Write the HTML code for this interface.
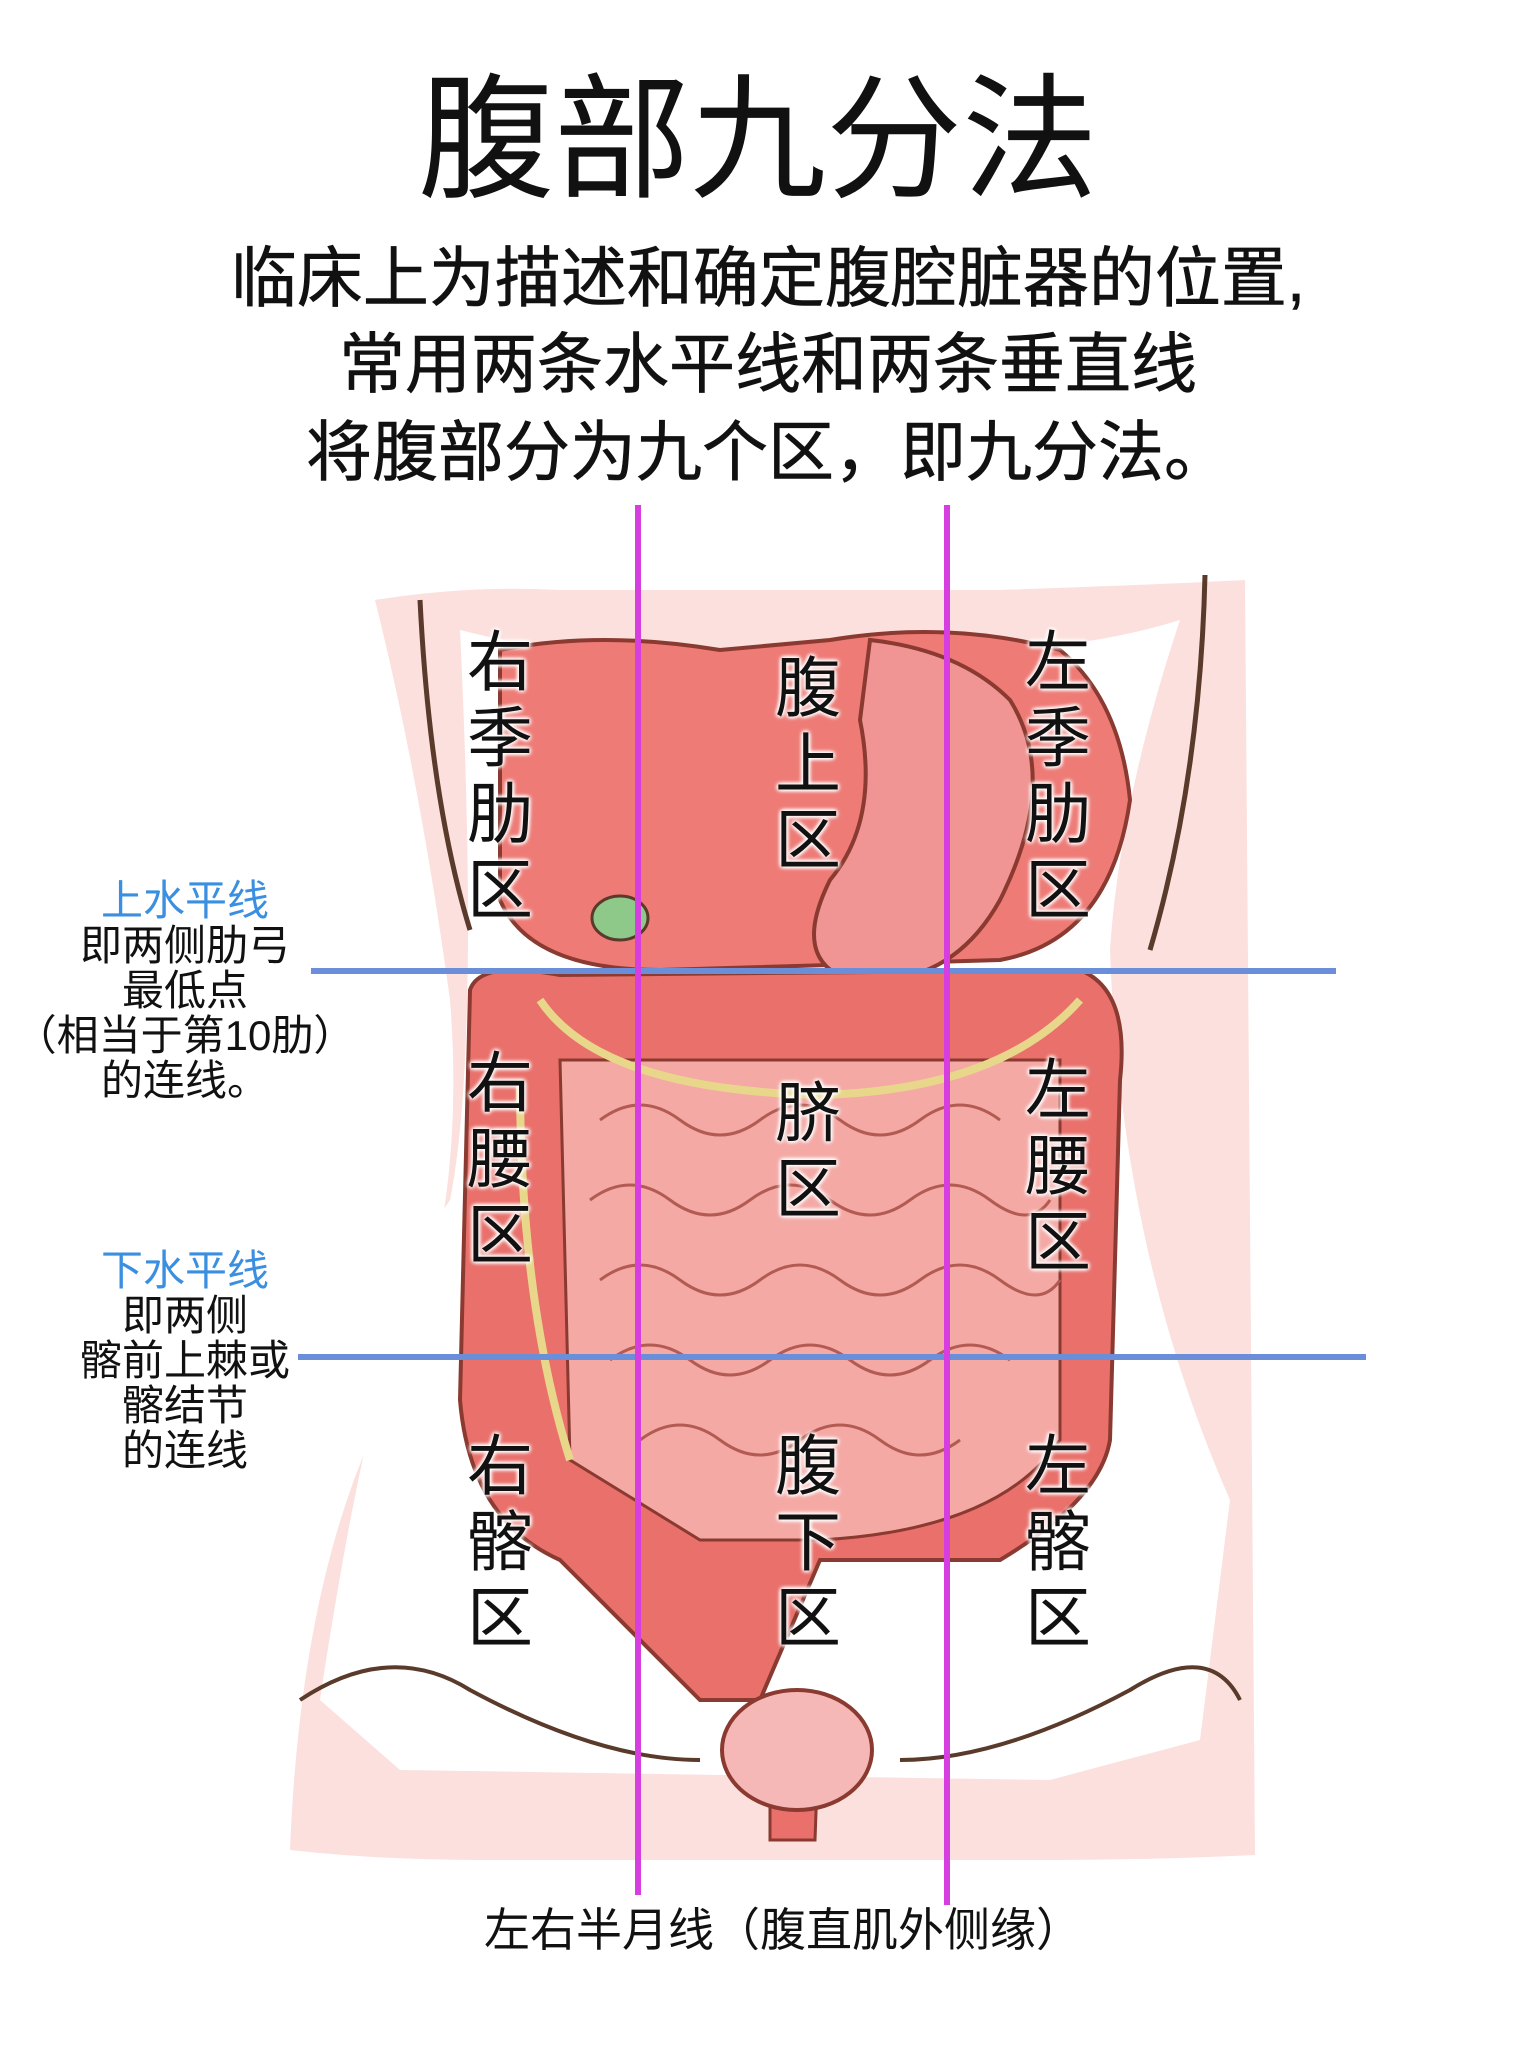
<!DOCTYPE html>
<html><head><meta charset="utf-8"><style>
body{margin:0;width:1536px;height:2048px;background:#fff;position:relative;overflow:hidden;font-family:"Liberation Sans","Noto Sans CJK SC",sans-serif}
.t{position:absolute;white-space:nowrap;text-align:center;color:#111}
.v{position:absolute;width:80px;font-size:66px;line-height:76px;text-align:center;color:#111;text-shadow:0 0 4px #fff,0 0 4px #fff,0 0 4px #fff,0 0 6px #fff}
.a{position:absolute;text-align:center;font-size:42px;line-height:45px;color:#111;width:400px}
</style></head><body>
<svg width="1536" height="2048" style="position:absolute;left:0;top:0">
<path d="M375,600 Q470,585 560,590 L1000,590 Q1150,585 1245,580 L1255,1855 Q1150,1860 1050,1860 L480,1860 Q380,1860 290,1850 Q300,1600 370,1440 Q470,1250 450,1000 Q420,780 375,600Z" fill="#fbe0dd"/>
<path d="M460,630 Q540,650 580,650 L1000,650 Q1100,645 1180,620 Q1120,800 1110,950 Q1120,1250 1230,1500 L1200,1740 L1050,1780 L400,1770 L320,1700 Q380,1300 450,1200 Q480,1050 460,630Z" fill="#fff"/>
<path d="M500,650 Q600,630 720,650 L830,640 Q950,620 1060,650 Q1120,700 1130,800 Q1110,940 1000,960 L660,970 Q530,970 500,900Z" fill="#ee7b76" stroke="#8a3a30" stroke-width="4"/>
<path d="M870,640 Q960,650 1010,700 Q1060,780 1000,900 Q950,990 850,980 Q790,960 830,880 Q880,820 860,720Z" fill="#f09593" stroke="#8a3a30" stroke-width="4"/>
<ellipse cx="620" cy="918" rx="28" ry="22" fill="#8fc98a" stroke="#5a3a2a" stroke-width="3"/>
<path d="M470,990 Q480,960 560,975 L1080,970 Q1130,990 1120,1080 L1110,1440 Q1100,1500 1000,1560 L820,1560 L760,1700 L700,1700 L560,1560 Q470,1520 460,1400Z" fill="#e9706b" stroke="#8a3a30" stroke-width="4"/>
<path d="M560,1060 L1060,1060 L1060,1440 Q1000,1530 820,1540 L700,1540 L570,1460Z" fill="#f4a9a5" stroke="#8a3a30" stroke-width="3"/>
<path d="M540,1000 Q600,1090 820,1095 Q1000,1090 1080,1000" fill="none" stroke="#e8d78a" stroke-width="8"/>
<path d="M520,1080 Q520,1300 570,1460" fill="none" stroke="#e8d78a" stroke-width="8"/>
<g fill="none" stroke="#b35a52" stroke-width="3">
<path d="M600,1120 q40,-30 80,0 t80,0 t80,0 t80,0 t80,0"/>
<path d="M590,1200 q40,-30 80,0 t80,0 t80,0 t80,0 t80,0 t60,0"/>
<path d="M600,1280 q40,-30 80,0 t80,0 t80,0 t80,0 t80,0 t60,0"/>
<path d="M610,1360 q40,-30 80,0 t80,0 t80,0 t80,0 t80,0"/>
<path d="M640,1440 q40,-30 80,0 t80,0 t80,0 t80,0"/>
</g>
<path d="M770,1700 L820,1700 L815,1840 L770,1840Z" fill="#e9706b" stroke="#8a3a30" stroke-width="3"/>
<ellipse cx="797" cy="1750" rx="75" ry="60" fill="#f5b8b6" stroke="#8a3a30" stroke-width="4"/>
<path d="M300,1700 Q390,1640 470,1690 Q600,1760 700,1760 M900,1760 Q1000,1760 1130,1690 Q1210,1640 1240,1700" fill="none" stroke="#5a3a2a" stroke-width="4"/>
<path d="M420,600 Q430,800 470,930 M1205,575 Q1200,780 1150,950" fill="none" stroke="#5a3a2a" stroke-width="5"/>
<line x1="311" y1="971" x2="1336" y2="971" stroke="#6a8fd8" stroke-width="6"/>
<line x1="298" y1="1357" x2="1366" y2="1357" stroke="#6a8fd8" stroke-width="6"/>
<line x1="638" y1="505" x2="638" y2="1895" stroke="#d63ee0" stroke-width="6"/>
<line x1="947" y1="505" x2="947" y2="1905" stroke="#d63ee0" stroke-width="6"/>
</svg>
<div class="t" style="left:-10px;width:1536px;top:60px;font-size:136px;line-height:160px">腹部九分法</div>
<div class="t" style="left:0;width:1536px;top:242px;font-size:66px;line-height:72px;-webkit-text-stroke:0.6px #111">临床上为描述和确定腹腔脏器的位置,</div>
<div class="t" style="left:0;width:1536px;top:328px;font-size:66px;line-height:72px;-webkit-text-stroke:0.6px #111">常用两条水平线和两条垂直线</div>
<div class="t" style="left:0;width:1536px;top:416px;font-size:66px;line-height:72px;-webkit-text-stroke:0.6px #111">将腹部分为九个区，即九分法。</div>
<div class="v" style="left:460px;top:624px">右<br>季<br>肋<br>区</div>
<div class="v" style="left:768px;top:650px">腹<br>上<br>区</div>
<div class="v" style="left:1018px;top:624px">左<br>季<br>肋<br>区</div>
<div class="v" style="left:460px;top:1045px">右<br>腰<br>区</div>
<div class="v" style="left:768px;top:1075px">脐<br>区</div>
<div class="v" style="left:1018px;top:1052px">左<br>腰<br>区</div>
<div class="v" style="left:460px;top:1428px">右<br>髂<br>区</div>
<div class="v" style="left:768px;top:1428px">腹<br>下<br>区</div>
<div class="v" style="left:1018px;top:1428px">左<br>髂<br>区</div>
<div class="a" style="left:-15px;top:878px"><span style="color:#3b8fe0">上水平线</span><br>即两侧肋弓<br>最低点<br>（相当于第10肋）<br>的连线。</div>
<div class="a" style="left:-15px;top:1248px"><span style="color:#3b8fe0">下水平线</span><br>即两侧<br>髂前上棘或<br>髂结节<br>的连线</div>
<div class="t" style="left:0;width:1566px;top:1902px;font-size:46px;line-height:56px">左右半月线（腹直肌外侧缘）</div>
</body></html>
